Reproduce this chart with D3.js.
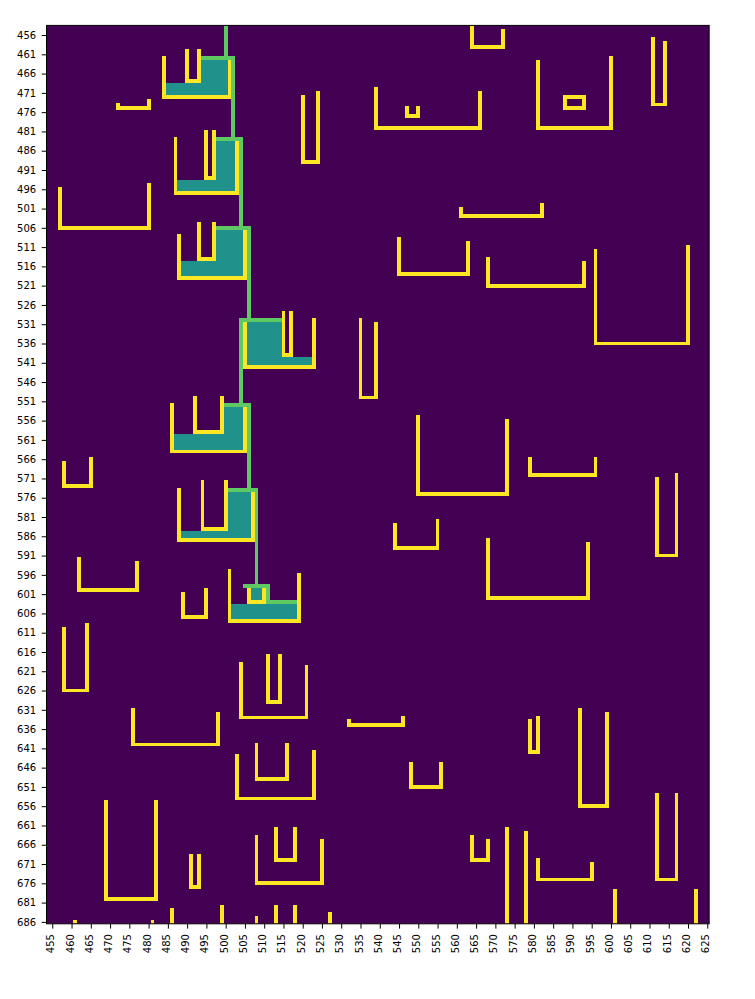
<!DOCTYPE html>
<html><head><meta charset="utf-8">
<script src="https://cdn.jsdelivr.net/npm/d3@7"></script>
<style>body{margin:0;background:#fff}svg{display:block}</style>
</head><body><svg id="c" width="755" height="999"></svg>
<script>
// ---- tick labels ----
const xTicks = [455,460,465,470,475,480,485,490,495,500,505,510,515,520,525,530,535,540,545,550,555,560,565,570,575,580,585,590,595,600,605,610,615,620,625];
const yTicks = [456,461,466,471,476,481,486,491,496,501,506,511,516,521,526,531,536,541,546,551,556,561,566,571,576,581,586,591,596,601,606,611,616,621,626,631,636,641,646,651,656,661,666,671,676,681,686];

// ---- clay veins: vertical [x, y1, y2] ----
const clayV = [
[484,462,472],[501,463,472],[490,460,468],[493,460,468],
[472,474,475],[480,473,475],
[457,496,506],[480,495,506],
[487,483,497],[503,484,497],[495,481,493],[497,481,493],
[488,508,519],[505,507,519],[493,505,514],[497,505,514],
[564,454,459],[572,455,459],
[520,472,489],[524,471,489],
[539,470,480],[566,471,480],[547,475,477],[550,475,477],
[561,501,503],[582,500,503],
[545,509,518],[563,510,518],
[568,514,521],[593,515,521],
[581,463,480],[600,462,480],[588,472,475],[593,472,475],
[611,457,474],[614,458,474],
[596,512,536],[620,511,536],
[505,531,542],[523,530,542],[515,528,539],[517,528,539],
[535,530,550],[539,531,550],
[550,555,575],[573,556,575],
[579,566,570],[596,566,570],
[612,571,591],[617,570,591],
[568,587,602],[594,588,602],
[544,583,589],[555,582,589],
[486,552,564],[505,553,564],[492,550,559],[499,550,559],
[488,574,587],[507,575,587],[494,572,584],[500,572,584],
[458,567,573],[465,566,573],
[462,592,600],[477,593,600],
[501,595,608],[519,596,608],[506,600,603],[510,600,603],
[489,601,607],[495,600,607],
[458,610,626],[464,609,626],
[476,631,640],[498,632,640],
[504,619,633],[521,620,633],[511,617,629],[514,617,629],
[503,643,654],[523,642,654],[508,640,649],[516,640,649],
[469,655,680],[482,655,680],
[491,669,677],[493,669,677],
[508,664,676],[525,665,676],[513,662,670],[518,662,670],
[532,634,635],[546,633,635],
[548,645,651],[556,645,651],
[564,664,670],[568,665,670],
[579,634,642],[581,633,642],
[592,631,656],[599,632,656],
[612,653,675],[617,653,675],
[581,670,675],[595,671,675],
[573,662,686],[578,663,686],[601,678,686],[622,678,686],
[461,686,686],[481,686,686],[486,683,686],[499,682,686],[508,685,686],[513,682,686],[518,682,686],[527,684,686]
];
// ---- clay veins: horizontal [y, x1, x2] ----
const clayH = [
[472,484,501],[468,490,493],
[475,472,480],
[506,457,480],
[497,487,503],[493,495,497],
[519,488,505],[514,493,497],
[459,564,572],
[489,520,524],
[480,539,566],[477,547,550],
[503,561,582],
[518,545,563],
[521,568,593],
[480,581,600],[472,588,593],[475,588,593],
[474,611,614],
[536,596,620],
[542,505,523],[539,515,517],
[550,535,539],
[575,550,573],
[570,579,596],
[591,612,617],
[602,568,594],
[589,544,555],
[564,486,505],[559,492,499],
[587,488,507],[584,494,500],
[573,458,465],
[600,462,477],
[608,501,519],[603,506,510],
[607,489,495],
[626,458,464],
[640,476,498],
[633,504,521],[629,511,514],
[654,503,523],[649,508,516],
[680,469,482],
[677,491,493],
[676,508,525],[670,513,518],
[635,532,546],
[651,548,556],
[670,564,568],
[642,579,581],
[656,592,599],
[675,612,617],
[675,581,595]
];
// ---- settled water blocks [x1, x2, y1, y2] ----
const stillWater = [
[494,500,463,468],[485,500,469,471],
[498,502,484,493],[488,502,494,496],
[498,504,507,514],[489,504,515,518],
[506,514,531,539],[506,522,540,541],
[500,504,553,559],[487,504,560,563],
[501,506,575,584],[489,506,585,586],
[507,509,600,602],[502,518,604,607]
];
// ---- flowing water: vertical [x, y1, y2] and horizontal [y, x1, x2] ----
const flowV = [
[500,454,461],[502,463,482],[504,484,505],[506,507,529],
[504,531,551],[506,553,573],[508,575,598],[511,600,602]
];
const flowH = [
[462,494,502],[483,498,504],[506,498,506],[530,504,514],
[552,500,506],[574,501,508],[599,505,511],[603,511,518]
];

const colors = {sand:'#440154', still:'#21918c', flow:'#5ec962', clay:'#fde725'};

const L = 46.5, R = 709.2, T = 25.4, B = 923.8;
const x = d3.scaleLinear().domain([453.5, 625.5]).range([L, R]);
const y = d3.scaleLinear().domain([453.5, 686.5]).range([T, B]);

const svg = d3.select('#c');
svg.append('defs').append('clipPath').attr('id','pc')
  .append('rect').attr('x',L).attr('y',T).attr('width',R-L).attr('height',B-T);

const g = svg.append('g').attr('clip-path','url(#pc)').attr('shape-rendering','crispEdges');
g.append('rect').attr('x',L).attr('y',T).attr('width',R-L).attr('height',B-T).attr('fill',colors.sand);

function block(x1,x2,y1,y2){
  return {x:x(x1-0.5), y:y(y1-0.5), w:x(x2+0.5)-x(x1-0.5), h:y(y2+0.5)-y(y1-0.5)};
}
const stillRects = stillWater.map(d=>block(d[0],d[1],d[2],d[3]));
const flowRects = flowV.map(d=>block(d[0],d[0],d[1],d[2])).concat(flowH.map(d=>block(d[1],d[2],d[0],d[0])));
const clayRects = clayV.map(d=>block(d[0],d[0],d[1],d[2])).concat(clayH.map(d=>block(d[1],d[2],d[0],d[0])));

function draw(data, col){
  g.append('g').selectAll('rect').data(data).join('rect')
    .attr('x',d=>d.x).attr('y',d=>d.y).attr('width',d=>d.w).attr('height',d=>d.h)
    .attr('fill',col);
}
draw(stillRects, colors.still);
draw(flowRects, colors.flow);
draw(clayRects, colors.clay);

// frame
svg.append('rect').attr('x',L).attr('y',T).attr('width',R-L).attr('height',B-T)
  .attr('fill','none').attr('stroke','#000').attr('stroke-width',1);

const font = "'DejaVu Sans', sans-serif";
const gx = svg.append('g').attr('transform',`translate(0,${B})`)
  .call(d3.axisBottom(x).tickValues(xTicks).tickSize(4.8).tickFormat(d3.format('d')));
gx.select('.domain').remove();
gx.selectAll('line').attr('stroke','#000');
gx.selectAll('text').attr('transform','rotate(-90)').attr('text-anchor','end')
  .attr('x',-10.3).attr('y',0).attr('dy','0.15em')
  .style('font-family',font).style('font-size','10px').attr('fill','#000');

const gy = svg.append('g').attr('transform',`translate(${L},0)`)
  .call(d3.axisLeft(y).tickValues(yTicks).tickSize(4.8).tickPadding(5.5).tickFormat(d3.format('d')));
gy.select('.domain').remove();
gy.selectAll('line').attr('stroke','#000');
gy.selectAll('text').style('font-family',font).style('font-size','10px').attr('fill','#000');
</script>
</body></html>
